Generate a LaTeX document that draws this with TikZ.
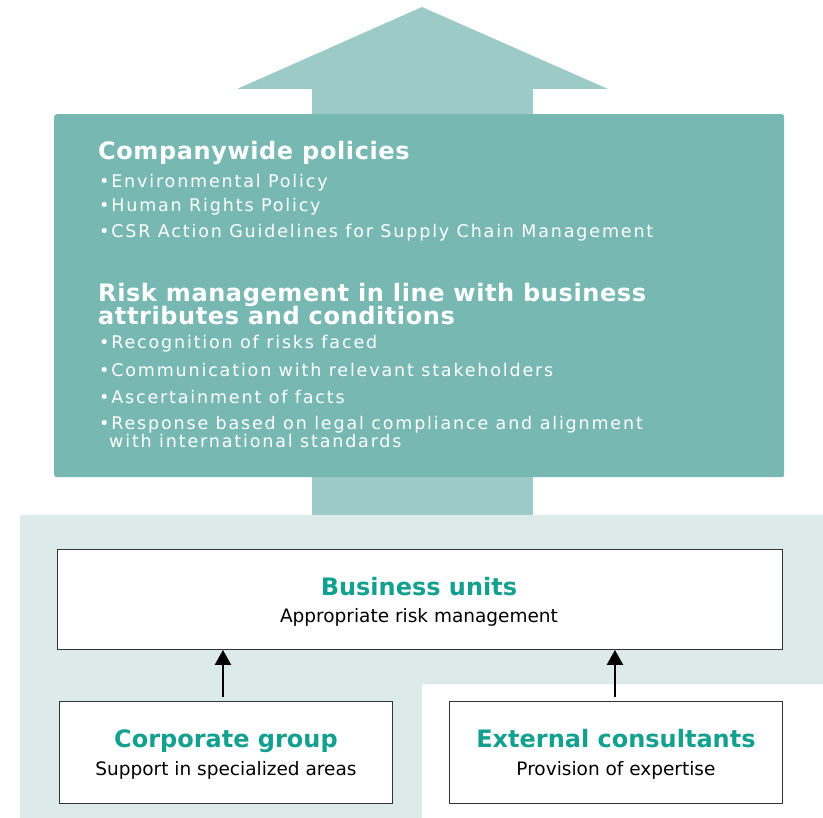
\documentclass[tikz,border=0pt]{standalone}
\usepackage{fontspec}
\setmainfont{DejaVu Sans}
\newfontfamily\bulfont{DejaVu Sans}[LetterSpace=10.5]
\newfontfamily\hdfont{DejaVu Sans}[LetterSpace=2.5]
\usetikzlibrary{arrows.meta}
\definecolor{arrowc}{HTML}{9CCBC7}
\definecolor{boxc}{HTML}{78B8B3}
\definecolor{bgc}{HTML}{DCEBE9}
\definecolor{titlec}{HTML}{13A08F}
\definecolor{edgec}{HTML}{333333}
\begin{document}
\begin{tikzpicture}[x=1pt,y=-1pt,
  head/.style={anchor=base west, inner sep=0pt, text=white, font=\hdfont\bfseries\fontsize{24}{28}\selectfont},
  bul/.style={anchor=base west, inner sep=0pt, text=white, font=\bulfont\fontsize{17.5}{20}\selectfont},
  wbox/.style={draw=edgec, fill=white, line width=0.9pt, inner sep=0pt, anchor=north west},
  btitle/.style={anchor=base, inner sep=0pt, text=titlec, font=\bfseries\fontsize{24}{28}\selectfont},
  bsub/.style={anchor=base, inner sep=0pt, text=black, font=\fontsize{18.5}{22}\selectfont},
  up/.style={line width=2.2pt, -{Triangle[length=15pt,width=16pt]}, shorten <=4pt}
]
\useasboundingbox (0,0) rectangle (823,818);
% big arrow
\fill[arrowc] (312,515) -- (312,89) -- (237,89) -- (422,7) -- (608,89) -- (533,89) -- (533,515) -- cycle;
% light background
\fill[bgc] (20,515) -- (823,515) -- (823,684) -- (422,684) -- (422,818) -- (20,818) -- cycle;
% policy box
\node[fill=boxc, rounded corners=2.5pt, minimum width=730pt, minimum height=363pt, inner sep=0pt, anchor=north west] (policy) at (54,114) {};
\node[head] (h1) at (98,159.5) {Companywide policies};
\node[bul] (b1) at (99,188) {•Environmental Policy};
\node[bul] (b2) at (99,212) {•Human Rights Policy};
\node[bul] (b3) at (99,238) {•CSR Action Guidelines for Supply Chain Management};
\node[head] (h2) at (98,302) {Risk management in line with business};
\node[head] (h3) at (98,325) {attributes and conditions};
\node[bul] (b4) at (99,349) {•Recognition of risks faced};
\node[bul] (b5) at (99,376.5) {•Communication with relevant stakeholders};
\node[bul] (b6) at (99,404) {•Ascertainment of facts};
\node[bul] (b7) at (99,430) {•Response based on legal compliance and alignment};
\node[bul] (b8) at (109,448) {with international standards};
% boxes
\node[wbox, minimum width=725pt, minimum height=100pt] (bu) at (57,549) {};
\node[btitle] (but) at (419,595) {Business units};
\node[bsub] (bus) at (419,623) {Appropriate risk management};
\node[wbox, minimum width=333pt, minimum height=102pt] (cg) at (59,701) {};
\node[btitle] (cgt) at (cg.center |- 0,747) {Corporate group};
\node[bsub] (cgs) at (cg.center |- 0,775) {Support in specialized areas};
\node[wbox, minimum width=333pt, minimum height=102pt] (ec) at (449,701) {};
\node[btitle] (ect) at (ec.center |- 0,747) {External consultants};
\node[bsub] (ecs) at (ec.center |- 0,775) {Provision of expertise};
% arrows
\draw[up] ([xshift=-3pt]cg.north) -- ([xshift=-3pt]cg.north |- bu.south);
\draw[up] ([xshift=-1pt]ec.north) -- ([xshift=-1pt]ec.north |- bu.south);
\end{tikzpicture}
\end{document}
